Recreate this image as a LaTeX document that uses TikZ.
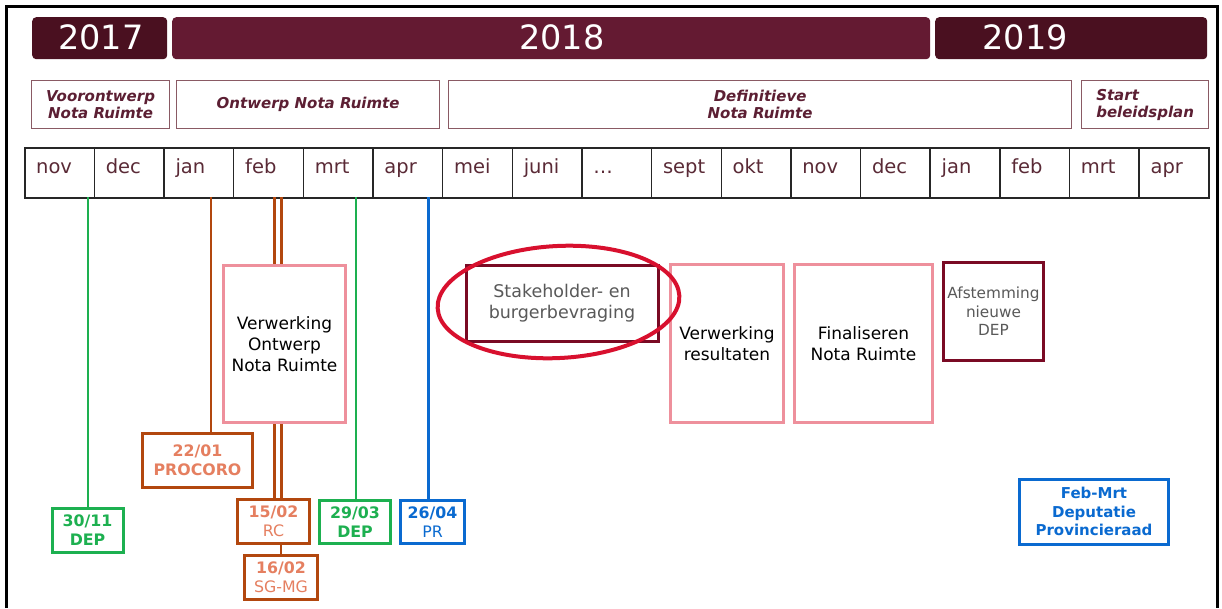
\documentclass[tikz,border=0pt]{standalone}
\usepackage{fontspec}
\setmainfont{DejaVu Sans}
\usetikzlibrary{positioning}

\definecolor{yeardark}{HTML}{4A1020}
\definecolor{yearmid}{HTML}{641A32}
\definecolor{phaseline}{HTML}{8A5A64}
\definecolor{phasetext}{HTML}{5C1F33}
\definecolor{monthtext}{HTML}{5A2A36}
\definecolor{depgreen}{HTML}{1DB050}
\definecolor{rcbrown}{HTML}{B2470E}
\definecolor{rcsalmon}{HTML}{E57F60}
\definecolor{prblue}{HTML}{0A6AD0}
\definecolor{taskpink}{HTML}{EE909C}
\definecolor{taskwine}{HTML}{7A0A24}
\definecolor{hilite}{HTML}{D8102E}

\begin{document}
\begin{tikzpicture}[x=1pt,y=-1pt,
  yearbar/.style={fill=#1, rounded corners=4pt, inner sep=0pt, anchor=north west},
  yearlabel/.style={text=white, font=\fontsize{33.5}{36}\selectfont, inner sep=0pt},
  phase/.style={draw=phaseline, line width=1.2pt, fill=white, inner sep=0pt, anchor=north west,
    align=center, text=phasetext, font=\fontsize{15}{17}\selectfont\bfseries\itshape},
  monthcell/.style={draw=black!85, line width=1.5pt, minimum width=69.65pt, minimum height=50pt,
    inner sep=0pt, anchor=north west},
  monthlabel/.style={anchor=base west, inner sep=0pt, text=monthtext, font=\fontsize{19.5}{22}\selectfont},
  conn/.style={draw=#1, line width=2.8pt},
  datebox/.style={draw=#1, line width=3pt, fill=white, inner sep=0pt, align=center,
    font=\fontsize{15.8}{19}\selectfont},
  taskbox/.style={draw=#1, line width=3pt, fill=white, inner sep=0pt, align=center,
    font=\fontsize{17}{21}\selectfont}]
\useasboundingbox (0,0) rectangle (1222,608);

% Screenshot frame
\draw[line width=3pt] (6,608) -- (6,6) -- (1217,6) -- (1217,608);

% Years
\node[yearbar=yeardark, minimum width=135pt, minimum height=42pt] (y17) at (32,17) {};
\node[yearbar=yearmid, minimum width=758pt, minimum height=42pt] (y18) at (172,17) {};
\node[yearbar=yeardark, minimum width=272pt, minimum height=42pt] (y19) at (935,17) {};
\node[yearlabel] (t17) at (101,37.5) {2017};
\node[yearlabel] (t18) at (562,37.5) {2018};
\node[yearlabel] (t19) at (1025,37.5) {2019};

% Phases
\node[phase, minimum width=138pt, minimum height=48pt] (p1) at (31,80) {Voorontwerp\\Nota Ruimte};
\node[phase, minimum width=263pt, minimum height=48pt] (p2) at (176,80) {Ontwerp Nota Ruimte};
\node[phase, minimum width=623pt, minimum height=48pt] (p3) at (448,80) {Definitieve\\Nota Ruimte};
\node[phase, minimum width=127pt, minimum height=48pt, align=left] (p4) at (1081,80) {Start\\beleidsplan};

% Months
\foreach \mon [count=\i from 0] in {nov,dec,jan,feb,mrt,apr,mei,juni,…,sept,okt,nov,dec,jan,feb,mrt,apr} {
  \node[monthcell] (m\i) at ({24+69.65*\i},147) {};
  \node[monthlabel] (ml\i) at ([xshift=12pt,yshift=-26.5pt]m\i.north west) {\mon};
}

% Milestones
\node[datebox=depgreen, text=depgreen, minimum width=71pt, minimum height=44pt] (d3011) at (87.5,530)
  {\textbf{30/11}\\\textbf{DEP}};
\node[datebox=rcbrown, text=rcsalmon, minimum width=110pt, minimum height=54pt] (d2201) at (197.5,460.5)
  {\textbf{22/01}\\\textbf{PROCORO}};
\node[datebox=rcbrown, text=rcsalmon, minimum width=72pt, minimum height=44pt] (d1502) at (273.5,521.5)
  {\textbf{15/02}\\RC};
\node[datebox=rcbrown, text=rcsalmon, minimum width=73pt, minimum height=44pt] (d1602) at (281,577.5)
  {\textbf{16/02}\\SG-MG};
\node[datebox=depgreen, text=depgreen, minimum width=71pt, minimum height=43pt] (d2903) at (355,522)
  {\textbf{29/03}\\\textbf{DEP}};
\node[datebox=prblue, text=prblue, minimum width=64pt, minimum height=43pt] (d2604) at (432.5,522)
  {\textbf{26/04}\\PR};
\node[datebox=prblue, text=prblue, minimum width=149pt, minimum height=65pt,
  font=\fontsize{15}{18.5}\selectfont\bfseries] (dfeb) at (1094,511.5)
  {Feb-Mrt\\Deputatie\\Provincieraad};

% Tasks
\node[taskbox=taskpink, minimum width=122pt, minimum height=157pt] (verw) at (284.5,344)
  {Verwerking\\Ontwerp\\Nota Ruimte};
\node[taskbox=taskwine, minimum width=192pt, minimum height=76pt, text=black!65,
  font=\fontsize{17.5}{21}\selectfont] (stake) at (562,303.5) {Stakeholder- en\\burgerbevraging};
\node[taskbox=taskpink, minimum width=113pt, minimum height=158pt] (res) at (727,343.5)
  {Verwerking\\resultaten};
\node[taskbox=taskpink, minimum width=138pt, minimum height=158pt] (fin) at (863.5,343.5)
  {Finaliseren\\Nota Ruimte};
\node[taskbox=taskwine, minimum width=100pt, minimum height=98pt, text=black!65,
  font=\fontsize{15.3}{18.5}\selectfont] (afst) at (993.5,311.5) {Afstemming\\nieuwe\\DEP};

% Connectors from the month row
\coordinate (s3011) at (88,197);
\coordinate (s2201) at (211,197);
\coordinate (s1502a) at (274.5,197);
\coordinate (s1502b) at (281.5,197);
\coordinate (s2903) at (356,197);
\coordinate (s2604) at (428.5,197);
\draw[conn=depgreen] (s3011) -- (s3011 |- d3011.north);
\draw[conn=rcbrown] (s2201) -- (s2201 |- d2201.north);
\foreach \s in {s1502a,s1502b} {
  \draw[conn=rcbrown] (\s) -- (\s |- verw.north);
  \draw[conn=rcbrown] (\s |- verw.south) -- (\s |- d1502.north);
}
\draw[conn=rcbrown] (d1602.north |- d1502.south) -- (d1602.north);
\draw[conn=depgreen] (s2903) -- (s2903 |- d2903.north);
\draw[conn=prblue] (s2604) -- (s2604 |- d2604.north);

% Highlight
\draw[hilite, line width=4pt, rotate around={3:(558.5,302)}] (558.5,302) ellipse [x radius=121, y radius=56];
\end{tikzpicture}
\end{document}
